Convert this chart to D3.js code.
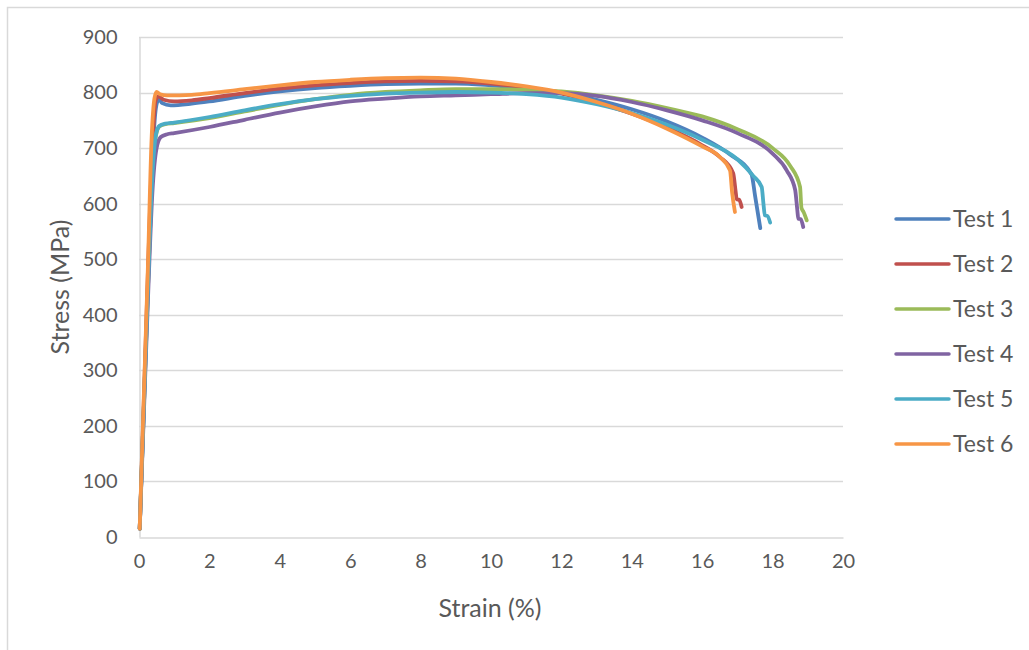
<!DOCTYPE html>
<html>
<head>
<meta charset="utf-8">
<script src="https://cdn.jsdelivr.net/npm/d3@7"></script>
<style>
  html, body { margin: 0; padding: 0; background: #fff; }
  svg { display: block; }
  text { font-family: Lato, "Open Sans", sans-serif; fill: #595959; }
</style>
</head>
<body>
<svg id="chart" width="1029" height="650"></svg>
<script>
// Tensile test curves: [strain (%), stress (MPa)]
const test1 = [[0.02,15],[0.12,200],[0.25,450],[0.38,680],[0.48,772],[0.56,788],[0.66,781],[0.9,777],[1.5,780],[2,784],[3,794],[4,802],[5,808],[6,812],[7,815],[8,816],[9,816],[10,813],[11,808],[12,800],[13,787],[14,770],[15,748],[16,719],[16.8,688],[17.4,653],[17.5,615],[17.65,556]];
const test2 = [[0.02,15],[0.12,210],[0.25,470],[0.38,700],[0.47,785],[0.55,793],[0.7,787],[1,784],[1.5,786],[2,790],[3,799],[4,807],[5,813],[6,817],[7,820],[8,821],[9,820],[10,816],[11,809],[12,798],[13,782],[14,762],[15,737],[16,705],[16.5,684],[16.88,655],[16.95,622],[16.98,608],[17.05,607],[17.12,594]];
const test3 = [[0.02,15],[0.12,200],[0.25,440],[0.38,650],[0.48,722],[0.58,739],[0.75,743],[1,745],[2,754],[3,766],[4,778],[5,788],[6,796],[7,801],[8,804],[9,806],[10,806],[11,805],[12,802],[13,795],[14,785],[15,772],[16,757],[17,734],[18,700],[18.5,668],[18.78,630],[18.82,592],[18.88,585],[18.97,570]];
const test4 = [[0.02,15],[0.12,190],[0.25,420],[0.38,620],[0.5,700],[0.62,720],[0.8,725],[1,727],[2,738],[3,751],[4,764],[5,775],[6,784],[7,789],[8,793],[9,795],[10,797],[11,799],[12,799],[13,794],[14,783],[15,768],[16,750],[17,727],[18,690],[18.4,660],[18.64,625],[18.7,590],[18.73,573],[18.8,572],[18.87,558]];
const test5 = [[0.02,15],[0.12,200],[0.25,440],[0.38,650],[0.48,724],[0.58,740],[0.75,744],[1,746],[2,756],[3,768],[4,779],[5,788],[6,794],[7,798],[8,800],[9,801],[10,800],[11,797],[12,791],[13,779],[14,763],[15,742],[16,715],[17,680],[17.45,650],[17.69,630],[17.74,600],[17.78,579],[17.85,578],[17.93,566]];
const test6 = [[0.02,15],[0.12,220],[0.25,480],[0.36,720],[0.44,790],[0.5,801],[0.6,797],[0.8,795],[1.5,796],[2,799],[3,806],[4,813],[5,819],[6,823],[7,826],[8,827],[9,825],[10,819],[11,811],[12,800],[13,783],[14,762],[15,735],[16,703],[16.5,684],[16.79,660],[16.85,620],[16.93,585]];

const seriesNames = ["Test 1", "Test 2", "Test 3", "Test 4", "Test 5", "Test 6"];
const seriesData = [test1, test2, test3, test4, test5, test6];
const seriesColors = ["#4F81BD", "#C0504D", "#9BBB59", "#8064A2", "#4BACC6", "#F79646"];
const xTicks = [0, 2, 4, 6, 8, 10, 12, 14, 16, 18, 20];
const yTicks = [0, 100, 200, 300, 400, 500, 600, 700, 800, 900];

const svg = d3.select("#chart");

// outer chart frame
svg.append("rect")
  .attr("x", 7.5).attr("y", 7.5)
  .attr("width", 1040).attr("height", 660)
  .attr("fill", "#fff").attr("stroke", "#D9D9D9").attr("stroke-width", 1.5);

const plot = { left: 139, right: 843, top: 37, bottom: 537 };

const x = d3.scaleLinear().domain([0, 20]).range([plot.left, plot.right]);
const y = d3.scaleLinear().domain([0, 900]).range([plot.bottom, plot.top]);

// horizontal gridlines
svg.append("g")
  .selectAll("line")
  .data(yTicks.filter(d => d > 0))
  .join("line")
  .attr("x1", plot.left).attr("x2", plot.right)
  .attr("y1", d => Math.round(y(d)) + 0.5).attr("y2", d => Math.round(y(d)) + 0.5)
  .attr("stroke", "#D9D9D9").attr("stroke-width", 1.5);

// y axis
const yAxis = svg.append("g")
  .attr("transform", `translate(${plot.left + 0.5},0)`)
  .call(d3.axisLeft(y).tickValues(yTicks).tickSize(0).tickPadding(22));
yAxis.select(".domain").attr("stroke", "#D9D9D9").attr("stroke-width", 1.5);
yAxis.selectAll("text").style("font-size", "20px").style("font-family", "Lato, sans-serif").attr("fill", "#595959");

// x axis
const xAxis = svg.append("g")
  .attr("transform", `translate(0,${plot.bottom + 0.5})`)
  .call(d3.axisBottom(x).tickValues(xTicks).tickSize(0).tickPadding(16));
xAxis.select(".domain").attr("stroke", "#D9D9D9").attr("stroke-width", 1.5);
xAxis.selectAll("text").style("font-size", "20px").style("font-family", "Lato, sans-serif").attr("fill", "#595959");

// axis titles
svg.append("text")
  .attr("transform", `translate(69,${(plot.top + plot.bottom) / 2}) rotate(-90)`)
  .attr("text-anchor", "middle")
  .style("font-size", "25px")
  .text("Stress (MPa)");

svg.append("text")
  .attr("x", 490)
  .attr("y", 617)
  .attr("text-anchor", "middle")
  .style("font-size", "25px")
  .text("Strain (%)");

// curves
const line = d3.line()
  .x(d => x(d[0]))
  .y(d => y(d[1]))
  .curve(d3.curveMonotoneX);

svg.append("g")
  .selectAll("path")
  .data(seriesData)
  .join("path")
  .attr("d", line)
  .attr("fill", "none")
  .attr("stroke", (d, i) => seriesColors[i])
  .attr("stroke-width", 3.8)
  .attr("stroke-linejoin", "round")
  .attr("stroke-linecap", "round");

// legend
const legend = svg.append("g")
  .selectAll("g")
  .data(seriesNames)
  .join("g")
  .attr("transform", (d, i) => `translate(896,${219 + i * 45})`);

legend.append("line")
  .attr("x1", 0).attr("x2", 53)
  .attr("y1", 0).attr("y2", 0)
  .attr("stroke", (d, i) => seriesColors[i])
  .attr("stroke-width", 3.5)
  .attr("stroke-linecap", "round");

legend.append("text")
  .attr("x", 57).attr("y", 0)
  .attr("dy", "0.35em")
  .style("font-size", "23px")
  .text(d => d);
</script>
</body>
</html>
